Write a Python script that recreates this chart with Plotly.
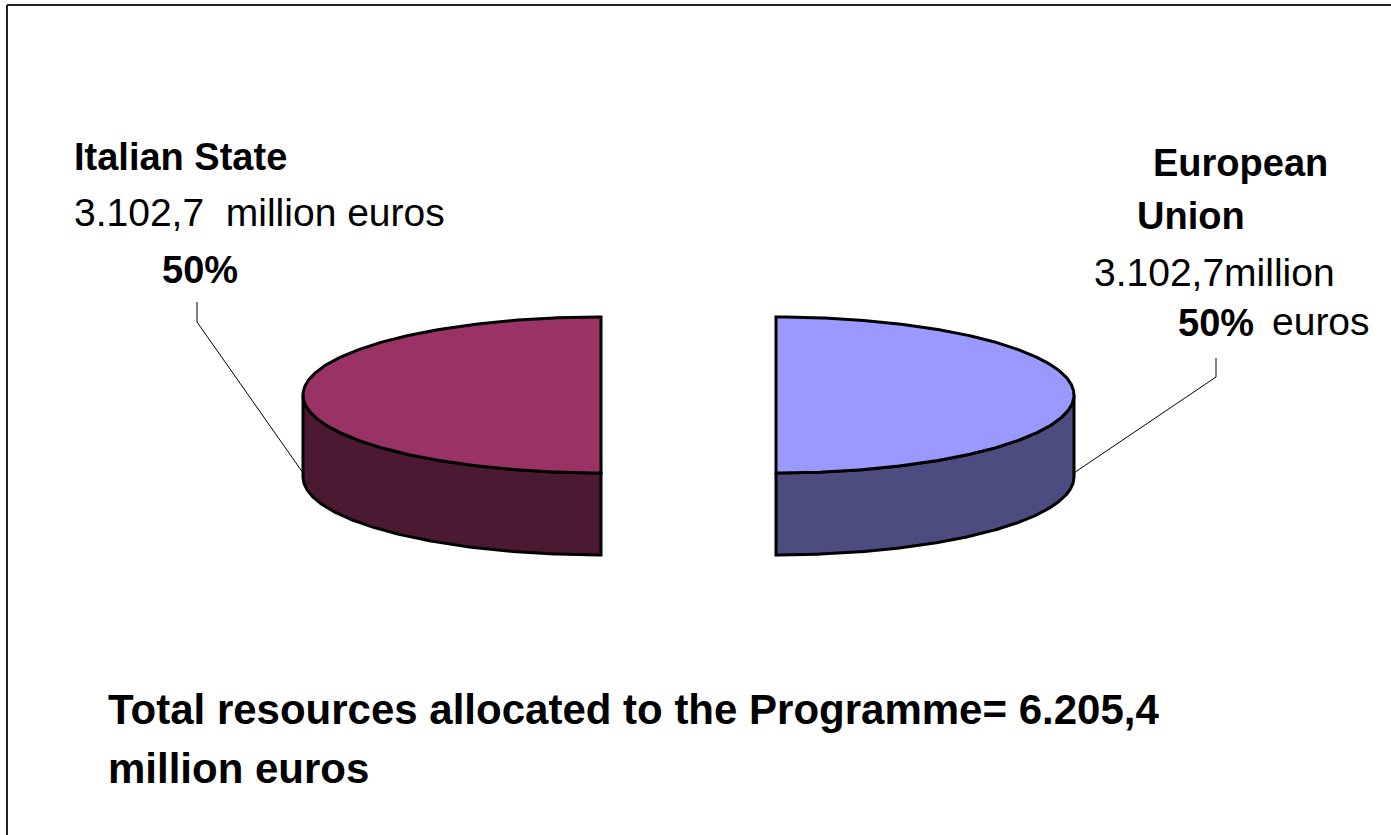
import numpy as np
import plotly.graph_objects as go

# ---------------- data ----------------
categories = ["Italian State", "European Union"]
values = [3102.7, 3102.7]          # million euros
unit = "million euros"

# ---------------- style / layout ----------------
top_colors = ["#993366", "#9999FF"]
side_colors = ["#4C1933", "#4C4C80"]

W, H = 1391, 835
CX, CY = 688.5, 395.0      # pie centre (pixels)
RX, RY = 298.0, 78.0       # ellipse radii of top face
DEPTH = 82.0               # thickness of the 3D pie
EXPLODE = 87.5             # explosion distance
START = 90.0               # first slice starts at the top, counter-clockwise
FONT = "Liberation Sans, Arial, sans-serif"
NB = "\u00a0"


def fmt_it(v):
    s = f"{v:,.1f}"
    return s.replace(",", "X").replace(".", ",").replace("X", ".")


def pt(t_deg, cx, cy, dy=0.0):
    t = np.radians(t_deg)
    return cx + RX * np.cos(t), cy - RY * np.sin(t) + dy


total = sum(values)
shares = [v / total for v in values]

fig = go.Figure()

angle = START
slice_info = []
for i, sh in enumerate(shares):
    a, b = angle, angle + 360.0 * sh
    angle = b
    mid = np.radians((a + b) / 2)
    cx = CX + EXPLODE * np.cos(mid)
    cy = CY - EXPLODE * np.sin(mid) * RY / RX
    slice_info.append((a, b, cx, cy))

    # visible front side (where sin t < 0)
    for k in range(-1, 3):
        lo = max(a, 180.0 + 360.0 * k)
        hi = min(b, 360.0 + 360.0 * k)
        if hi - lo > 1e-6:
            ts = np.linspace(lo, hi, 200)
            xt, yt = pt(ts, cx, cy)
            xb, yb = pt(ts[::-1], cx, cy, DEPTH)
            xs = np.concatenate([xt, xb, xt[:1]])
            ys = np.concatenate([yt, yb, yt[:1]])
            fig.add_trace(go.Scatter(
                x=xs, y=ys, mode="lines", fill="toself",
                fillcolor=side_colors[i],
                line=dict(color="black", width=3),
                hoverinfo="skip", showlegend=False))

    # top face
    ts = np.linspace(a, b, 400)
    xa, ya = pt(ts, cx, cy)
    xs = np.concatenate([[cx], xa, [cx]])
    ys = np.concatenate([[cy], ya, [cy]])
    fig.add_trace(go.Scatter(
        x=xs, y=ys, mode="lines", fill="toself",
        fillcolor=top_colors[i],
        line=dict(color="black", width=3),
        hoverinfo="skip", showlegend=False,
        name=categories[i]))

# ---------------- labels ----------------
pct = [f"{round(s * 100)}%" for s in shares]
amt = [fmt_it(v) for v in values]

# leader line start points (label side)
leader_starts = [(197, 302, 322), (1216, 358, 377)]
for i, (a, b, cx, cy) in enumerate(slice_info):
    mid = (a + b) / 2
    ex, ey = pt(mid, cx, cy, DEPTH * 0.95)
    lx, ly0, ly1 = leader_starts[i]
    fig.add_trace(go.Scatter(
        x=[lx, lx, ex], y=[ly0, ly1, ey], mode="lines",
        line=dict(color="black", width=1),
        hoverinfo="skip", showlegend=False))

ann = []


def add_text(text, x, y, size, bold=False, xanchor="center"):
    ann.append(dict(
        text=f"<b>{text}</b>" if bold else text,
        x=x, y=y, xref="x", yref="y", xanchor=xanchor, yanchor="middle",
        showarrow=False, font=dict(family=FONT, size=size, color="black")))


LB, LR = 38, 39
# Italian State
add_text(categories[0], 180, 157, LB, bold=True)
add_text(f"{amt[0]}{NB}{NB}{unit}", 259, 212, LR)
add_text(pct[0], 200, 270, LB, bold=True)
# European Union
eu_words = categories[1].split(" ")
unit_words = unit.split(" ")
add_text(eu_words[0], 1240, 163, LB, bold=True)
add_text(eu_words[1], 1191, 216, LB, bold=True)
add_text(f"{amt[1]}{unit_words[0]}", 1214, 272, LR)
add_text(pct[1], 1216, 323, LB, bold=True)
add_text(unit_words[1], 1321, 321, LR)
# Total
add_text(f"Total resources allocated to the Programme= {fmt_it(total)}",
         106, 709, 42, bold=True, xanchor="left")
add_text(unit, 106, 768, 42, bold=True, xanchor="left")

# frame (only top & left edges are visible in the picture)
shapes = [
    dict(type="line", xref="x", yref="y", x0=7, x1=W, y0=5, y1=5,
         line=dict(color="#222222", width=2)),
    dict(type="line", xref="x", yref="y", x0=7, x1=7, y0=5, y1=H,
         line=dict(color="#222222", width=2)),
]

fig.update_layout(
    width=W, height=H, autosize=False,
    margin=dict(l=0, r=0, t=0, b=0, pad=0),
    paper_bgcolor="white", plot_bgcolor="white",
    xaxis=dict(range=[0, W], visible=False, fixedrange=True),
    yaxis=dict(range=[H, 0], visible=False, fixedrange=True),
    annotations=ann, shapes=shapes,
    showlegend=False, hovermode=False,
)

fig.write_html(
    "out.html",
    config={"displayModeBar": False},
    post_script="document.body.style.margin='0';"
                "document.body.style.overflow='hidden';",
)
